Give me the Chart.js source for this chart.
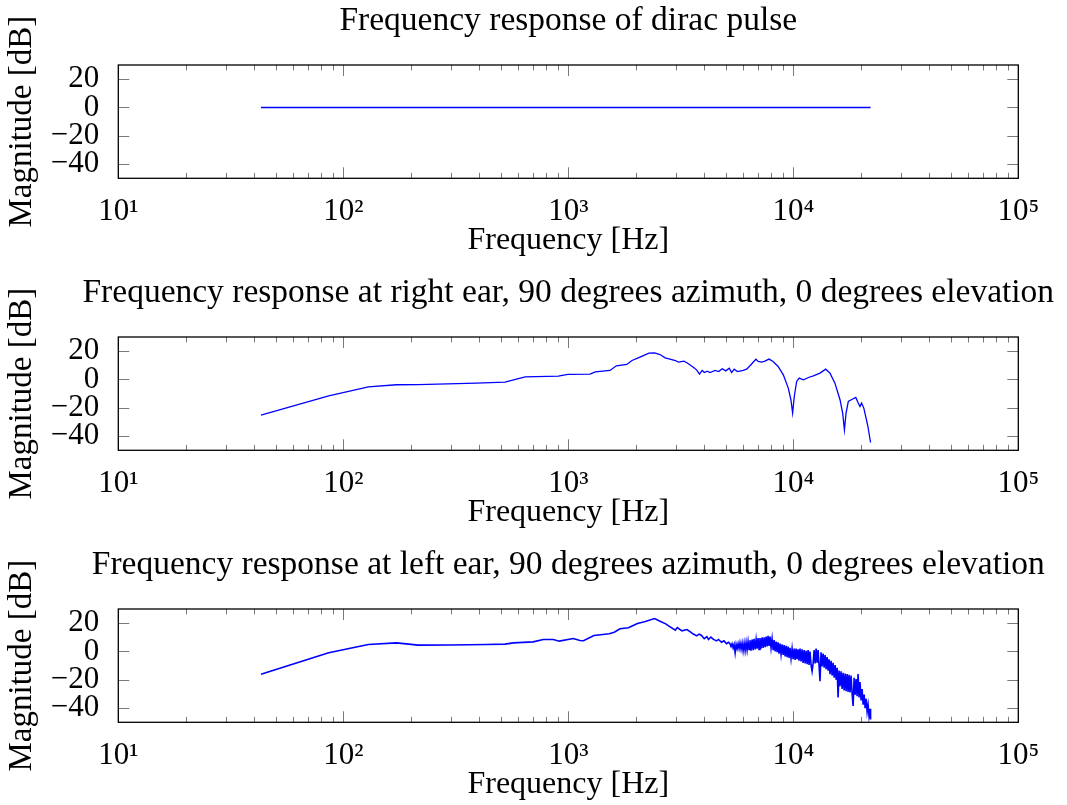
<!DOCTYPE html>
<html>
<head>
<meta charset="utf-8">
<script src="https://cdn.jsdelivr.net/npm/chart.js@4.4.1/dist/chart.umd.min.js"></script>
<style>
  html, body { margin: 0; padding: 0; background: #fff; overflow: hidden; width: 1067px; height: 805px; }
  .panel { position: absolute; left: 0; width: 1137px; height: 262px; }
</style>
</head>
<body>
<div class="panel" style="top:0px"><canvas id="c1" width="1137" height="262"></canvas></div>
<div class="panel" style="top:272px"><canvas id="c2" width="1137" height="262"></canvas></div>
<div class="panel" style="top:544px"><canvas id="c3" width="1137" height="262"></canvas></div>
<script>
const titles = [
    "Frequency response of dirac pulse",
    "Frequency response at right ear, 90 degrees azimuth, 0 degrees elevation",
    "Frequency response at left ear, 90 degrees azimuth, 0 degrees elevation"
];
const xTitle = "Frequency [Hz]";
const yTitle = "Magnitude [dB]";

const decades = [10, 100, 1000, 10000, 100000];
const decadeLabels = ["10\u00B9", "10\u00B2", "10\u00B3", "10\u2074", "10\u2075"];
const minorSteps = [2, 3, 4, 5, 6, 7, 8, 9];
const yTicks = [-40, -20, 0, 20];

// dirac pulse: flat 0 dB
const diracFreq = [43.07, 22050];
const diracMag = [0, 0];

// right ear
const rightFreq = [
    43.07, 86.13, 129.2, 172.3, 215.3, 390, 523, 643, 903, 980,
    1000, 1249, 1318, 1532, 1636, 1820, 1920, 2083, 2281, 2420,
    2556, 2693, 2831, 2990, 3085, 3267, 3380, 3593, 3715, 3830,
    3935, 4025, 4150, 4264, 4490, 4660, 4830, 5010, 5190, 5320,
    5460, 5650, 5990, 6200, 6420, 6600, 6820, 6980, 7230, 7480,
    7800, 8130, 8560, 9030, 9500, 9760, 9930, 10100, 10350, 10620,
    11100, 11680, 12280, 13140, 13930, 14560, 15310, 16130, 16570, 16870,
    17160, 17560, 18180, 18960, 19390, 19790, 20110, 20580, 21130, 21460,
    22050
];
const rightMag = [
    -25.1, -11.5, -5.2, -3.7, -3.6, -2.6, -1.9, 1.9, 2.4, 3.4,
    3.6, 3.8, 5.4, 6.4, 9.7, 10.6, 13.4, 15.8, 18.6, 18.8,
    17.6, 15.3, 14.4, 13.4, 12.3, 13.0, 11.6, 8.7, 6.8, 3.8,
    6.4, 4.9, 5.9, 4.9, 6.4, 5.6, 7.6, 6.1, 8.0, 4.9,
    7.3, 5.6, 6.4, 7.3, 9.7, 11.8, 14.4, 12.7, 12.3, 13.0,
    14.4, 12.7, 9.2, 3.3, -6.1, -14.3, -23.7, -12.0, -1.4, 1.0,
    -0.2, 1.4, 2.6, 4.5, 7.3, 4.5, -2.6, -14.3, -23.7, -35.5,
    -23.7, -15.5, -14.1, -12.7, -16.2, -19.1, -16.7, -20.2, -28.4, -33.2,
    -44.5
];

// left ear
const leftFreq = [
    43.07, 86.13, 129.2, 172.3, 215.3, 301, 434, 523, 570, 698,
    774, 858, 912, 1052, 1127, 1168, 1300, 1520, 1600, 1697,
    1850, 2030, 2180, 2420, 2556, 2710, 2780, 2990, 3050, 3200,
    3370, 3474, 3580, 3720, 3810, 3900, 4020, 4130, 4200, 4300,
    4420, 4560, 4650, 4800, 4920, 5050, 5150,
    5232, 5288, 5345, 5401, 5458, 5514, 5570, 5627, 5683, 5740,
    5796, 5858, 5921, 5983, 6046, 6108, 6170, 6233, 6295, 6358,
    6420, 6489, 6558, 6628, 6697, 6766, 6835, 6904, 6974, 7043,
    7112, 7189, 7265, 7342, 7419, 7496, 7572, 7649, 7726, 7802,
    7879, 7964, 8049, 8134, 8219, 8304, 8388, 8473, 8558, 8643,
    8728, 8822, 8916, 9010, 9104, 9198, 9292, 9386, 9480, 9574,
    9668, 9772, 9876, 9981, 10085, 10189, 10293, 10397, 10502, 10606,
    10710, 10825, 10941, 11056, 11172, 11287, 11402, 11518, 11633, 11749,
    11864, 11992, 12120, 12248, 12376, 12504, 12631, 12759, 12887, 13015,
    13143, 13285, 13426, 13568, 13709, 13851, 13993, 14134, 14276, 14417,
    14559, 14716, 14873, 15030, 15187, 15344, 15500, 15657, 15814, 15971,
    16128, 16302, 16475, 16649, 16823, 16997, 17170, 17344, 17518, 17691,
    17865, 18058, 18250, 18443, 18635, 18828, 19020, 19213, 19405, 19598,
    19790, 20003, 20217, 20430, 20643, 20857, 21070, 21283, 21497, 21710,
    21923, 22050
];
const leftMag = [
    -16.0, -0.9, 4.9, 6.1, 4.5, 4.6, 4.9, 5.2, 6.1, 6.8,
    8.5, 8.5, 7.3, 9.2, 7.8, 7.6, 11.3, 12.5, 13.6, 16.0,
    16.7, 19.8, 21.0, 23.3, 21.4, 19.5, 18.2, 15.0, 16.9, 14.6,
    15.5, 14.0, 12.5, 11.0, 12.2, 11.5, 9.0, 10.5, 8.5, 10.2,
    8.5, 7.5, 8.5, 6.5, 7.5, 5.5, 6.5,
    5.5, 3.5, 5.5, 2.5, 5.0, -1.0, 5.0, 2.0, 5.5, 2.0,
    6.0, 1.5, 6.0, 0.5, 6.0, 0.5, 6.5, 1.0, 7.0, 1.5,
    8.0, 0.5, 8.5, 1.0, 9.0, 1.5, 8.5, 2.0, 9.5, 1.5,
    9.5, 2.0, 10.0, 2.5, 10.0, 3.0, 10.5, 3.5, 11.0, 4.0,
    10.5, 2.5, 9.0, 1.0, 8.0, 0.0, 7.0, -0.5, 6.5, -1.5,
    5.5, -2.0, 5.0, -2.5, 4.5, -3.5, 4.0, -4.0, 3.5, -4.5,
    2.5, -5.0, 2.0, -5.5, 2.0, -6.0, 2.0, -5.5, 1.5, -6.5,
    2.0, -7.0, 1.5, -8.0, 1.0, -8.5, 0.5, -9.0, 1.0, -9.5,
    0.0, -9.5, -14.0, -8.5, 1.0, -8.5, 2.0, -8.0, 1.0, -9.5,
    -21.0, -0.5, -10.5, -1.5, -11.5, -2.5, -12.5, -4.0, -13.5, -5.5,
    -16.0, -6.5, -17.0, -8.0, -18.5, -9.5, -20.0, -11.5, -32.5, -13.5,
    -24.5, -14.0, -26.5, -15.0, -27.5, -15.5, -28.0, -16.0, -28.5, -16.5,
    -29.0, -17.0, -29.5, -38.5, -18.5, -30.5, -19.5, -31.5, -16.0, -32.5,
    -21.5, -34.5, -26.5, -37.5, -30.5, -40.0, -33.5, -42.5, -37.5, -45.5,
    -40.5, -48.0
];

Chart.defaults.font.family = "'Liberation Serif', 'Times New Roman', serif";
Chart.defaults.font.size = 31;
Chart.defaults.color = "#000";

let xTickValues = [];
decades.forEach((d, i) => {
    xTickValues.push(d);
    if (i < decades.length - 1) minorSteps.forEach(m => xTickValues.push(d * m));
});

// pgfplots style box with inward ticks
const frameTicks = {
    id: "frameTicks",
    afterDatasetsDraw(chart) {
        const { ctx, chartArea: a, scales: { x, y } } = chart;
        ctx.save();
        ctx.strokeStyle = "#7a7a7a";
        ctx.lineWidth = 1;
        ctx.beginPath();
        x.ticks.forEach(t => {
            let px = Math.round(x.getPixelForValue(t.value)) + 0.5;
            let len = t.major ? 11 : 5.5;
            ctx.moveTo(px, a.top); ctx.lineTo(px, a.top + len);
            ctx.moveTo(px, a.bottom); ctx.lineTo(px, a.bottom - len);
        });
        y.ticks.forEach(t => {
            let py = Math.round(y.getPixelForValue(t.value)) + 0.5;
            ctx.moveTo(a.left, py); ctx.lineTo(a.left + 11, py);
            ctx.moveTo(a.right, py); ctx.lineTo(a.right - 11, py);
        });
        ctx.stroke();
        ctx.strokeStyle = "#000";
        ctx.lineWidth = 1.3;
        ctx.strokeRect(a.left, a.top, a.right - a.left, a.bottom - a.top);
        ctx.restore();
    }
};

function makeChart(id, title, freq, mag, lineWidth) {
    let points = freq.map((f, i) => ({ x: f, y: mag[i] }));
    return new Chart(document.getElementById(id), {
        type: "line",
        data: {
            datasets: [{
                data: points,
                borderColor: "#0000ff",
                borderWidth: lineWidth,
                pointRadius: 0,
                fill: false,
                tension: 0
            }]
        },
        options: {
            responsive: false,
            animation: false,
            devicePixelRatio: 1,
            layout: { padding: { left: 0, right: 0.4, top: 0, bottom: 0 } },
            plugins: {
                legend: { display: false },
                tooltip: { enabled: false },
                title: {
                    display: true,
                    text: title,
                    color: "#000",
                    font: { size: 33.5, weight: "normal" },
                    padding: { top: 1.4, bottom: 23.4 }
                }
            },
            scales: {
                x: {
                    type: "logarithmic",
                    min: 10,
                    max: 100000,
                    afterBuildTicks: s => { s.ticks = xTickValues.map(v => ({ value: v, major: decades.includes(v) })); },
                    afterFit: s => { s.height = 83.7; },
                    grid: { display: false },
                    border: { display: false },
                    ticks: {
                        autoSkip: false,
                        maxRotation: 0,
                        padding: 7,
                        callback: v => { let i = decades.indexOf(v); return i >= 0 ? decadeLabels[i] : ""; }
                    },
                    title: { display: true, text: xTitle, font: { size: 32 }, padding: { top: 0, bottom: 2.3 } }
                },
                y: {
                    min: -50,
                    max: 30,
                    afterBuildTicks: s => { s.ticks = yTicks.map(v => ({ value: v })); },
                    afterFit: s => { s.width = 118.3; },
                    grid: { display: false },
                    border: { display: false },
                    ticks: {
                        autoSkip: false,
                        padding: 11,
                        callback: v => String(v).replace("-", "\u2212")
                    },
                    title: { display: true, text: yTitle, font: { size: 33 }, padding: { top: 3, bottom: 0 } }
                },
                // empty right-hand spacer so the title centres over the plot box
                spacer: {
                    position: "right",
                    afterFit: s => { s.width = 118.3; },
                    grid: { display: false },
                    border: { display: false },
                    ticks: { display: false }
                }
            }
        },
        plugins: [frameTicks]
    });
}

makeChart("c1", titles[0], diracFreq, diracMag, 1.4);
makeChart("c2", titles[1], rightFreq, rightMag, 1.3);
makeChart("c3", titles[2], leftFreq, leftMag, 1.6);
</script>
</body>
</html>
